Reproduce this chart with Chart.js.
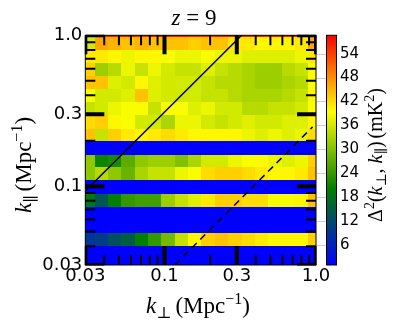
<!DOCTYPE html>
<html lang="en">
<head>
<meta charset="UTF-8">
<title>z = 9 power spectrum</title>
<script src="https://cdn.jsdelivr.net/npm/chart.js@4"></script>
<style>
  * { margin: 0; padding: 0; }
  html, body { width: 394px; height: 325px; background: #fff; overflow: hidden; }
</style>
</head>
<body>
<canvas id="c" width="394" height="325"></canvas>
<script>
// ---------- data ----------

// bin edges, k_perp left -> right, k_par top -> bottom (Mpc^-1)
const K_PERP_EDGES = [0.03, 0.0346, 0.0424, 0.0519, 0.0636, 0.0779, 0.0954, 0.1169, 0.1432,
  0.1754, 0.2148, 0.2632, 0.3224, 0.3949, 0.4838, 0.5926, 0.726, 0.889, 1.0];
const K_PAR_EDGES = [1.0, 0.970, 0.795, 0.652, 0.534, 0.438, 0.359, 0.294, 0.241, 0.198,
  0.162, 0.133, 0.109, 0.0893, 0.0732, 0.0600, 0.0492, 0.0403, 0.0331, 0.03];

// Delta^2 (mK^2), one row per k_par bin (top -> bottom), one value per k_perp bin
const POWER = [
  [55, 56, 57, 57, 56, 57, 57, 57, 56, 56, 57, 57, 56, 56, 57, 57, 56, 55],
  [36, 46, 45, 44, 45, 44, 44, 44, 43, 44, 44, 41, 41, 40, 40, 40, 41, 46],
  [41, 41, 40, 38, 40, 40, 39, 38, 38, 39, 38, 38, 37, 37, 37, 37, 38, 41],
  [43, 32, 34, 38, 35, 38, 36, 35, 35, 37, 35, 34, 33, 32, 32, 34, 35, 39],
  [44, 44, 37, 36, 40, 37, 36, 36, 36, 35, 34, 34, 33, 32, 32, 33, 34, 39],
  [39, 36, 36, 37, 44, 37, 36, 36, 36, 35, 35, 34, 33, 33, 33, 34, 35, 40],
  [35, 36, 38, 39, 39, 35, 39, 39, 37, 38, 36, 36, 34, 34, 35, 35, 36, 39],
  [42, 43, 40, 39, 36, 36, 33, 38, 38, 36, 35, 36, 37, 36, 36, 37, 37, 40],
  [44, 35, 43, 41, 40, 41, 42, 41, 40, 40, 40, 40, 38, 37, 38, 37, 38, 42],
  [1, 1, 1, 1, 1, 1, 1, 1, 1, 1, 1, 1, 1, 1, 1, 1, 1, 1],
  [31, 21, 22, 27, 31, 32, 32, 30, 33, 36, 36, 38, 39, 39, 38, 37, 38, 43],
  [31, 34, 31, 28, 33, 35, 35, 38, 39, 42, 43, 43, 42, 41, 40, 40, 41, 44],
  [1, 1, 1, 1, 1, 1, 1, 1, 1, 1, 1, 1, 1, 1, 1, 1, 1, 1],
  [19, 14, 20, 24, 25, 25, 32, 35, 37, 41, 43, 43, 42, 42, 39, 39, 40, 44],
  [1, 1, 1, 1, 1, 1, 1, 1, 1, 1, 1, 1, 1, 1, 1, 1, 1, 1],
  [1, 1, 1, 1, 1, 1, 1, 1, 1, 1, 1, 1, 1, 1, 1, 1, 1, 1],
  [9, 10, 13, 15, 20, 24, 29, 35, 40, 43, 44, 43, 42, 41, 40, 40, 40, 43],
  [1, 1, 1, 1, 1, 1, 1, 1, 1, 1, 1, 1, 1, 1, 1, 1, 1, 1],
  [1, 1, 1, 1, 1, 1, 1, 1, 1, 1, 1, 1, 1, 1, 1, 1, 1, 1],
];

// wedge lines
const SOLID_KPERP = [0.03, 0.323];
const SOLID_KPAR = [0.093, 1.0];
const DASHED_KPERP = [0.117, 0.95];
const DASHED_KPAR = [0.03, 0.247];

const AXIS_TICKS = [0.03, 0.1, 0.3, 1.0];
const AXIS_TICK_LABELS = ['0.03', '0.1', '0.3', '1.0'];
const MINOR_TICKS = [0.04, 0.05, 0.06, 0.07, 0.08, 0.09, 0.2, 0.4, 0.5, 0.6, 0.7, 0.8, 0.9];

const CB_MIN = 1;
const CB_MAX = 58.6;
const CB_TICKS = [6, 12, 18, 24, 30, 36, 42, 48, 54];

// blue -> green -> yellow -> red
const CMAP = [[0, [0, 0, 255]], [1 / 3, [0, 128, 0]], [2 / 3, [255, 255, 0]], [1, [255, 0, 0]]];

function cmap(v) {
  const t = Math.min(1, Math.max(0, (v - CB_MIN) / (CB_MAX - CB_MIN)));
  for (let i = 1; i < CMAP.length; i++) {
    if (t <= CMAP[i][0]) {
      const [t0, c0] = CMAP[i - 1], [t1, c1] = CMAP[i];
      const f = (t - t0) / (t1 - t0);
      const c = c0.map((a, k) => Math.round(a + (c1[k] - a) * f));
      return `rgb(${c[0]},${c[1]},${c[2]})`;
    }
  }
  return 'rgb(255,0,0)';
}

const SERIF = "'Liberation Serif', 'DejaVu Serif', serif";
const SANS = "'DejaVu Sans', sans-serif";

// ---------- plugins ----------

const heatmap = {
  id: 'heatmap',
  beforeDatasetsDraw(chart) {
    const { ctx, chartArea: a, scales: { x, y } } = chart;
    ctx.save();
    ctx.beginPath();
    ctx.rect(a.left, a.top, a.width, a.height);
    ctx.clip();
    POWER.forEach((row, r) => {
      const y0 = Math.round(y.getPixelForValue(K_PAR_EDGES[r]));
      const y1 = Math.round(y.getPixelForValue(K_PAR_EDGES[r + 1]));
      row.forEach((v, c) => {
        const x0 = Math.round(x.getPixelForValue(K_PERP_EDGES[c]));
        const x1 = Math.round(x.getPixelForValue(K_PERP_EDGES[c + 1]));
        ctx.fillStyle = cmap(v);
        ctx.fillRect(x0, y0, x1 - x0, y1 - y0);
      });
    });
    ctx.restore();
  }
};

function seg(ctx, x0, y0, x1, y1, w) {
  ctx.lineWidth = w;
  ctx.beginPath();
  ctx.moveTo(x0, y0);
  ctx.lineTo(x1, y1);
  ctx.stroke();
}

const frameTicks = {
  id: 'frameTicks',
  afterDatasetsDraw(chart) {
    const { ctx, chartArea: a, scales: { x, y } } = chart;
    ctx.save();
    ctx.strokeStyle = '#000';
    ctx.lineWidth = 1;
    ctx.strokeRect(a.left, a.top, a.width, a.height);
    ctx.beginPath();
    ctx.rect(a.left - 0.5, a.top - 0.5, a.width + 1, a.height + 1);
    ctx.clip();
    const both = (vals, len, w) => {
      for (const v of vals) {
        const px = x.getPixelForValue(v);
        seg(ctx, px, a.bottom, px, a.bottom - len, w);
        seg(ctx, px, a.top, px, a.top + len, w);
        const py = y.getPixelForValue(v);
        seg(ctx, a.left, py, a.left + len, py, w);
        seg(ctx, a.right, py, a.right - len, py, w);
      }
    };
    both(MINOR_TICKS, 10, 2);
    both(AXIS_TICKS, 19, 4);
    ctx.restore();
  }
};

function drawRich(ctx, parts, cx, cy, rot) {
  ctx.save();
  ctx.translate(cx, cy);
  ctx.rotate(rot);
  ctx.fillStyle = '#000';
  ctx.textAlign = 'left';
  ctx.textBaseline = 'alphabetic';
  let w = 0;
  for (const p of parts) { ctx.font = p.f; w += ctx.measureText(p.t).width + (p.gap || 0); }
  let px = -w / 2;
  for (const p of parts) {
    ctx.font = p.f;
    ctx.fillText(p.t, px, p.dy || 0);
    px += ctx.measureText(p.t).width + (p.gap || 0);
  }
  ctx.restore();
}

const texts = {
  id: 'texts',
  afterDraw(chart) {
    const { ctx, chartArea: a, scales: { cb } } = chart;
    // colour bar
    const bx = 326, bw = 10;
    const top = cb.getPixelForValue(CB_MAX), bot = cb.getPixelForValue(CB_MIN);
    const g = ctx.createLinearGradient(0, bot, 0, top);
    CMAP.forEach(([t, c]) => g.addColorStop(t, `rgb(${c[0]},${c[1]},${c[2]})`));
    ctx.save();
    ctx.fillStyle = g;
    ctx.fillRect(bx, top, bw, bot - top);
    ctx.strokeStyle = '#000';
    ctx.lineWidth = 1;
    ctx.strokeRect(bx + 0.5, top, bw, bot - top);
    ctx.strokeStyle = '#cfcfcf';
    for (const v of CB_TICKS) {
      const py = Math.round(cb.getPixelForValue(v)) + 0.5;
      seg(ctx, a.right + 1, py, bx, py, 1);
    }
    ctx.restore();

    const big = `23px ${SERIF}`, bigI = `italic 23px ${SERIF}`, small = `16px ${SERIF}`;
    drawRich(ctx, [
      { t: 'z', f: `italic 23px ${SERIF}` },
      { t: ' = ', f: `23px ${SERIF}` },
      { t: '9', f: `23px ${SERIF}` }
    ], 194, 25, 0);

    drawRich(ctx, [
      { t: 'k', f: bigI },
      { t: '⊥', f: small, dy: 5, gap: 4 },
      { t: '(Mpc', f: big },
      { t: '−1', f: small, dy: -9 },
      { t: ')', f: big }
    ], 198, 313, 0);

    drawRich(ctx, [
      { t: 'k', f: bigI },
      { t: '∥', f: small, dy: 5, gap: 4 },
      { t: '(Mpc', f: big },
      { t: '−1', f: small, dy: -9 },
      { t: ')', f: big }
    ], 31, 165, -Math.PI / 2);

    const m = `20px ${SERIF}`, mI = `italic 20px ${SERIF}`, ms = `14px ${SERIF}`;
    drawRich(ctx, [
      { t: 'Δ', f: m },
      { t: '2', f: ms, dy: -8 },
      { t: '(', f: m },
      { t: 'k', f: mI },
      { t: '⊥', f: ms, dy: 4 },
      { t: ', ', f: m },
      { t: 'k', f: mI },
      { t: '∥', f: ms, dy: 4 },
      { t: ')', f: m, gap: 3 },
      { t: '(mK', f: m },
      { t: '2', f: ms, dy: -8 },
      { t: ')', f: m }
    ], 382, 155, -Math.PI / 2);
  }
};

// ---------- chart ----------

const tickFont = { family: SANS, size: 18 };

new Chart(document.getElementById('c'), {
  type: 'scatter',
  data: {
    datasets: [
      {
        data: SOLID_KPERP.map((v, i) => ({ x: v, y: SOLID_KPAR[i] })),
        showLine: true, borderColor: '#000', borderWidth: 1.5, pointRadius: 0
      },
      {
        data: DASHED_KPERP.map((v, i) => ({ x: v, y: DASHED_KPAR[i] })),
        showLine: true, borderColor: '#000', borderWidth: 1.5, borderDash: [7, 5], pointRadius: 0
      }
    ]
  },
  options: {
    responsive: false,
    animation: false,
    events: [],
    layout: { padding: { top: 35.3, left: 0, right: 0, bottom: 0 } },
    plugins: { legend: { display: false }, tooltip: { enabled: false } },
    scales: {
      x: {
        type: 'logarithmic', position: 'bottom', min: 0.03, max: 1.0,
        afterBuildTicks: s => { s.ticks = AXIS_TICKS.map(v => ({ value: v })); },
        afterFit: s => { s.height = 60; },
        grid: { display: false, drawTicks: false },
        border: { display: false },
        ticks: {
          callback: (v, i) => AXIS_TICK_LABELS[i], font: tickFont, color: '#000',
          padding: 1, maxRotation: 0, autoSkip: false
        }
      },
      y: {
        type: 'logarithmic', position: 'left', min: 0.03, max: 1.0,
        afterBuildTicks: s => { s.ticks = AXIS_TICKS.map(v => ({ value: v })); },
        afterFit: s => { s.width = 85.3; },
        grid: { display: false, drawTicks: false },
        border: { display: false },
        ticks: {
          callback: (v, i) => AXIS_TICK_LABELS[i], font: tickFont, color: '#000',
          padding: 3, autoSkip: false
        }
      },
      cb: {
        type: 'linear', position: 'right', min: CB_MIN, max: CB_MAX,
        afterBuildTicks: s => { s.ticks = CB_TICKS.map(v => ({ value: v })); },
        afterFit: s => { s.width = 78; },
        grid: { display: false, drawTicks: false },
        border: { display: false },
        ticks: { font: { family: SANS, size: 15 }, color: '#000', padding: 24, autoSkip: false }
      }
    }
  },
  plugins: [heatmap, frameTicks, texts]
});
</script>
</body>
</html>
